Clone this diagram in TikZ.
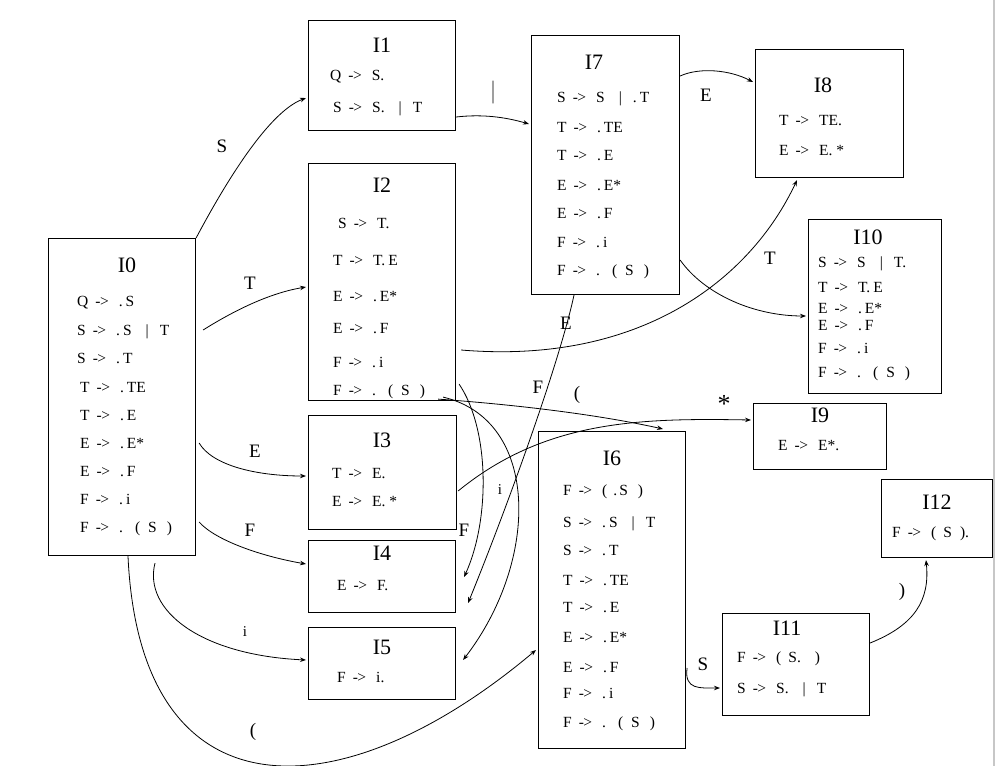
\documentclass[tikz,border=0pt]{standalone}
\usepackage{fontspec}
\setmainfont{Liberation Serif}
\usetikzlibrary{arrows.meta,calc}
% spacing helpers for the item sets
\newcommand\ra{\hspace{7pt}-\kern-0.5pt>\hspace{10pt}}
\newcommand\vb{\hspace{14pt}|\hspace{11pt}}
\newcommand\dt{.\hspace{3pt}}
\newcommand\pr[1]{(\hspace{8pt}#1\hspace{10pt})}
\newcommand\dpr{.\hspace{12pt}\pr{S}}
\begin{document}
\begin{tikzpicture}[x=1pt,y=-1pt,
  box/.style={draw, line width=1.1pt, anchor=north west, inner sep=0pt},
  title/.style={anchor=base, inner sep=0pt, font=\fontsize{22}{22}\selectfont},
  item/.style={anchor=base west, inner sep=0pt, font=\fontsize{15.5}{15.5}\selectfont},
  edge/.style={line width=0.8pt, -{Stealth[length=6pt,width=4.5pt]}},
  lbl/.style={inner sep=0pt, font=\fontsize{19}{19}\selectfont},
  smalllbl/.style={inner sep=0pt, font=\fontsize{15}{15}\selectfont}]
\useasboundingbox (0,0) rectangle (997,766);
\fill[white] (0,0) rectangle (997,766);
\draw[black!22, line width=1.5pt] (994,0) -- (994,766);

% ---------- item sets ----------
\node[box, minimum width=147pt, minimum height=317pt] (I0) at (48,238) {};
\node[title] (I0t) at (127,272) {I0};
\foreach \y/\t [count=\k] in {306/{Q\ra\dt S}, 335/{S\ra\dt S\vb T}, 363/{S\ra\dt T},
  392/{\hspace{3pt}T\ra\dt TE}, 420/{\hspace{3pt}T\ra\dt E}, 448/{\hspace{3pt}E\ra\dt E*},
  476/{\hspace{3pt}E\ra\dt F}, 504/{\hspace{3pt}F\ra\dt i}, 532/{\hspace{3pt}F\ra\dpr}}
  \node[item] (I0r\k) at (77,\y) {\t};

\node[box, minimum width=147pt, minimum height=110pt] (I1) at (308,20) {};
\node[title] (I1t) at (382,52) {I1};
\node[item] (I1r1) at (330,80) {Q\ra S.};
\node[item] (I1r2) at (333,112) {S\ra S.\vb T};

\node[box, minimum width=147pt, minimum height=237pt] (I2) at (308,163) {};
\node[title] (I2t) at (382,192) {I2};
\foreach \y/\t [count=\k] in {228/{\hspace{5pt}S\ra T.}, 265/{T\ra T.\hspace{3pt}E},
  301/{E\ra\dt E*}, 333/{E\ra\dt F}, 367/{F\ra\dt i}, 395/{F\ra\dpr}}
  \node[item] (I2r\k) at (333,\y) {\t};

\node[box, minimum width=148pt, minimum height=114pt] (I3) at (308,415) {};
\node[title] (I3t) at (382,447) {I3};
\node[item] (I3r1) at (332,478) {T\ra E.};
\node[item] (I3r2) at (332,506) {E\ra E.\hspace{4pt}*};

\node[box, minimum width=147pt, minimum height=72pt] (I4) at (308,540) {};
\node[title] (I4t) at (382,560) {I4};
\node[item] (I4r1) at (337,590) {E\ra F.};

\node[box, minimum width=147pt, minimum height=72pt] (I5) at (308,627) {};
\node[title] (I5t) at (382,654) {I5};
\node[item] (I5r1) at (337,682) {F\ra i.};

\node[box, minimum width=147pt, minimum height=317pt] (I6) at (538,431) {};
\node[title] (I6t) at (612,465) {I6};
\foreach \y/\t [count=\k] in {495/{F\ra(\hspace{6pt}.\hspace{2pt}S\hspace{10pt})},
  527/{S\ra\dt S\vb T}, 555/{S\ra\dt T}, 585/{T\ra\dt TE}, 612/{T\ra\dt E},
  642/{E\ra\dt E*}, 672/{E\ra\dt F}, 698/{F\ra\dt i}, 727/{F\ra\dpr}}
  \node[item] (I6r\k) at (563,\y) {\t};

\node[box, minimum width=148pt, minimum height=259pt] (I7) at (531,35) {};
\node[title] (I7t) at (594,69) {I7};
\foreach \y/\t [count=\k] in {102/{S\ra S\vb\dt T}, 132/{T\ra\dt TE}, 160/{T\ra\dt E},
  190/{E\ra\dt E*}, 218/{E\ra\dt F}, 247/{F\ra\dt i}, 275/{F\ra\dpr}}
  \node[item] (I7r\k) at (557,\y) {\t};

\node[box, minimum width=148pt, minimum height=128pt] (I8) at (755,49) {};
\node[title] (I8t) at (823,92) {I8};
\node[item] (I8r1) at (779,125) {T\ra TE.};
\node[item] (I8r2) at (779,155) {E\ra E.\hspace{4pt}*};

\node[box, minimum width=133pt, minimum height=66pt] (I9) at (753,403) {};
\node[title] (I9t) at (820,422) {I9};
\node[item] (I9r1) at (778,450) {E\ra E*.};

\node[box, minimum width=133pt, minimum height=174pt] (I10) at (808,219) {};
\node[title] (I10t) at (868,244) {I10};
\foreach \y/\t [count=\k] in {267/{S\ra S\vb T.}, 292/{T\ra T.\hspace{3pt}E},
  313/{E\ra\dt E*}, 330/{E\ra\dt F}, 353/{F\ra\dt i}, 377/{F\ra\dpr}}
  \node[item] (I10r\k) at (818,\y) {\t};

\node[box, minimum width=147pt, minimum height=102pt] (I11) at (722,613) {};
\node[title] (I11t) at (787,635) {I11};
\node[item] (I11r1) at (737,662) {F\ra(\hspace{7pt}S.\hspace{14pt})};
\node[item] (I11r2) at (737,693) {S\ra S.\vb T};

\node[box, minimum width=111pt, minimum height=78pt] (I12) at (881,479) {};
\node[title] (I12t) at (937,509) {I12};
\node[item] (I12r1) at (892,537) {F\ra(\hspace{7pt}S\hspace{8pt}).};

% ---------- transitions ----------
\draw[edge] (I0.north east) .. controls (220,193) and (266,113) .. ($(I1.north west)+(-2,78)$);
\draw[edge] ($(I0.north east)+(7,92)$) .. controls (235,310) and (270,293) .. ($(I2.north west)+(-2,124)$);
\draw[edge] ($(I0.north east)+(3,205)$) .. controls (212,465) and (255,476) .. ($(I3.north west)+(-2,61)$);
\draw[edge] ($(I0.north east)+(3,284)$) .. controls (215,540) and (260,556) .. ($(I4.north west)+(-2,24)$);
\draw[edge] ($(I0.south west)+(107,7)$) .. controls (143,610) and (200,655) .. ($(I5.north west)+(-2,33)$);
\draw[edge] ($(I0.south west)+(80,0)$) .. controls (140,820) and (340,815) .. ($(I6.north west)+(-2,219)$);
\draw[edge] ($(I1.north east)+(0,97)$) .. controls (482,114) and (505,117) .. ($(I7.north west)+(-2,89)$);
\draw[edge] ($(I7.north east)+(0,41)$) .. controls (700,67) and (730,70) .. ($(I8.north west)+(-2,33)$);
\draw[edge] ($(I7.north east)+(0,225)$) .. controls (705,295) and (755,316) .. ($(I10.north west)+(-2,97)$);
\draw[edge] ($(I2.north east)+(5,187)$) .. controls (640,365) and (750,280) .. ($(I8.south west)+(42,2)$);
\draw[edge] ($(I2.south east)+(-18,-2)$) .. controls (520,405) and (600,415) .. ($(I6.north west)+(125,-2)$);
\draw[edge] ($(I3.north east)+(1,76)$) .. controls (545,420) and (640,418) .. ($(I9.north west)+(-2,17)$);
\draw[edge] ($(I2.south east)+(3,-17)$) .. controls (490,430) and (490,520) .. ($(I4.north east)+(8,37)$);
\draw[edge] ($(I2.south east)+(-13,-4)$) .. controls (540,420) and (540,560) .. ($(I5.north east)+(7,33)$);
\draw[edge] ($(I7.south west)+(43,0)$) .. controls (560,360) and (510,500) .. ($(I4.north east)+(12,63)$);
\draw[edge] ($(I6.north east)+(1,237)$) .. controls (684,690) and (700,688) .. ($(I11.north west)+(-2,75)$);
\draw[edge] ($(I11.north east)+(0,30)$) .. controls (915,625) and (930,600) .. ($(I12.south west)+(45,2)$);

% ---------- transition symbols ----------
\node[lbl] (lS1) at (222,146) {S};
\node[lbl] (lT1) at (250,283) {T};
\node[lbl] (lE1) at (255,451) {E};
\node[lbl] (lF1) at (250,530) {F};
\node[smalllbl] (li1) at (245,632) {i};
\node[lbl] (lp1) at (253,732) {(};
\node[inner sep=0pt, font=\fontsize{25}{25}\selectfont, text=black!60] (lbar) at (493,93) {|};
\node[lbl] (lE2) at (706,95) {E};
\node[lbl] (lT2) at (770,258) {T};
\node[lbl] (lE3) at (566,323) {E};
\node[lbl] (lF2) at (538,387) {F};
\node[lbl] (lp2) at (577,395) {(};
\node[inner sep=0pt, font=\fontsize{26}{26}\selectfont] (lst) at (724,404) {*};
\node[smalllbl] (li2) at (500,490) {i};
\node[lbl] (lF3) at (464,530) {F};
\node[lbl] (lS2) at (703,664) {S};
\node[lbl] (lrp) at (902,592) {)};
\end{tikzpicture}
\end{document}
